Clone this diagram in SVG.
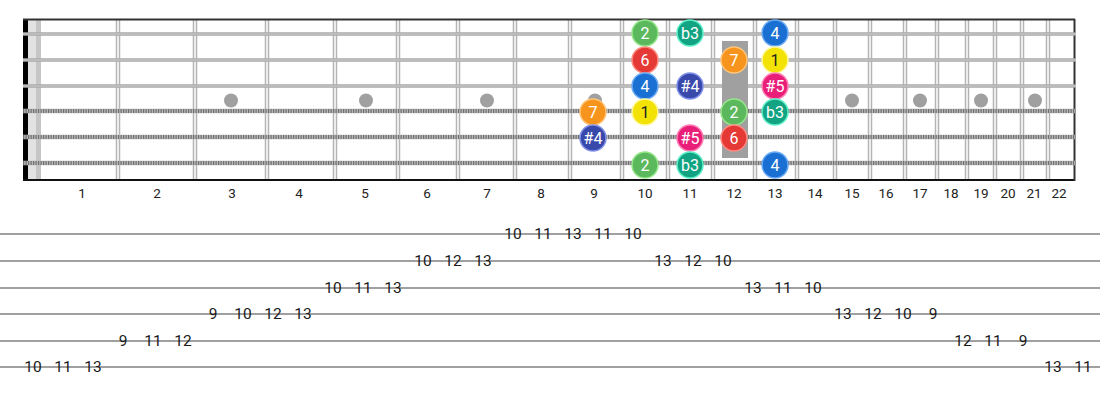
<svg xmlns="http://www.w3.org/2000/svg" width="1100" height="400" viewBox="0 0 1100 400">
<defs>
<style>
.fret{stroke:#b4b4b4;stroke-width:1.5;fill:none}
.plain{stroke:#a8a8a8;stroke-width:3.5}
.plainc{stroke:#d0d0d0;stroke-width:1}
.wound{stroke:#b8b8b8;stroke-width:4.5}
.woundt{stroke:#707070;stroke-width:4;stroke-dasharray:1.2 1.3}
.inlay{fill:#a0a0a0}
.fnum{font-family:Roboto,"Liberation Sans",sans-serif;font-size:13.5px;fill:#222;text-anchor:middle}
.tabline{stroke:#a0a0a0;stroke-width:2}
.tab{font-family:Roboto,"Liberation Sans",sans-serif;font-size:15.5px;fill:#1a1a1a;text-anchor:middle;dominant-baseline:central}
.nt{font-family:Roboto,"Liberation Sans",sans-serif;font-size:16px;fill:#fff;text-anchor:middle;dominant-baseline:central}
.dk{fill:#222}
.c2{fill:#5cb85c;stroke:#95e68a;stroke-width:1.5}
.cb3{fill:#12a383;stroke:#5ef0c8;stroke-width:1.5}
.c4{fill:#1a6fd2;stroke:#6aaaf5;stroke-width:1.5}
.c6{fill:#e53935;stroke:#ff8a80;stroke-width:1.5}
.c7{fill:#f7941d;stroke:#ffc57a;stroke-width:1.5}
.c1{fill:#f2e205;stroke:#fff8a0;stroke-width:1.5}
.cs4{fill:#3949ab;stroke:#8190e8;stroke-width:1.5}
.cs5{fill:#e91e79;stroke:#ff80b5;stroke-width:1.5}
</style>
</defs>
<rect x="0" y="0" width="1100" height="400" fill="#fff"/>
<g id="fretboard">
<rect x="28" y="19" width="8" height="161" fill="#e2e2e2"/>
<rect x="36" y="19" width="5" height="161" fill="#c6c6c6"/>
<rect x="23" y="19" width="5" height="162" fill="#000"/>
<g id="frets">
<path class="fret" d="M116.5 19V180M119.5 19V180M193.5 19V180M196.5 19V180M265.5 19V180M268.5 19V180M333.5 19V180M336.5 19V180M396.5 19V180M399.5 19V180M456.5 19V180M459.5 19V180M513.5 19V180M516.5 19V180M568.5 19V180M571.5 19V180M620.5 19V180M623.5 19V180M666.5 19V180M669.5 19V180M711.5 19V180M714.5 19V180M753.5 19V180M756.5 19V180M795.5 19V180M798.5 19V180M833.5 19V180M836.5 19V180M868.5 19V180M871.5 19V180M903.5 19V180M906.5 19V180M935.5 19V180M938.5 19V180M965.5 19V180M968.5 19V180M993.5 19V180M996.5 19V180M1020.5 19V180M1023.5 19V180M1046.5 19V180M1049.5 19V180"/>
</g>
<line x1="23" y1="19.5" x2="1075" y2="19.5" stroke="#333" stroke-width="2"/>
<line x1="23" y1="180" x2="1075" y2="180" stroke="#111" stroke-width="2"/>
<line x1="1074.5" y1="19" x2="1074.5" y2="181" stroke="#333" stroke-width="2"/>
<g id="inlays">
<circle class="inlay" cx="231" cy="100.5" r="7"/>
<circle class="inlay" cx="366" cy="100.5" r="7"/>
<circle class="inlay" cx="487" cy="100.5" r="7"/>
<circle class="inlay" cx="595" cy="100.5" r="7"/>
<circle class="inlay" cx="852" cy="100.5" r="7"/>
<circle class="inlay" cx="920" cy="100.5" r="7"/>
<circle class="inlay" cx="981" cy="100.5" r="7"/>
<circle class="inlay" cx="1035" cy="100.5" r="7"/>
</g>
<g id="strings">
<line class="plain" x1="23" y1="34" x2="1076" y2="34"/>
<line class="plainc" x1="23" y1="34" x2="1076" y2="34"/>
<line class="plain" x1="23" y1="60" x2="1076" y2="60"/>
<line class="plainc" x1="23" y1="60" x2="1076" y2="60"/>
<line class="plain" x1="23" y1="86" x2="1076" y2="86"/>
<line class="plainc" x1="23" y1="86" x2="1076" y2="86"/>
<line class="wound" x1="23" y1="111" x2="1076" y2="111"/>
<line class="woundt" x1="23" y1="111" x2="1076" y2="111"/>
<line class="wound" x1="23" y1="137" x2="1076" y2="137"/>
<line class="woundt" x1="23" y1="137" x2="1076" y2="137"/>
<line class="wound" x1="23" y1="163" x2="1076" y2="163"/>
<line class="woundt" x1="23" y1="163" x2="1076" y2="163"/>
</g>
<rect x="722" y="41" width="26" height="117" fill="#a0a0a0"/>
</g>
<g id="fret-numbers">
<text class="fnum" x="82" y="198">1</text>
<text class="fnum" x="157" y="198">2</text>
<text class="fnum" x="232" y="198">3</text>
<text class="fnum" x="299" y="198">4</text>
<text class="fnum" x="365" y="198">5</text>
<text class="fnum" x="427" y="198">6</text>
<text class="fnum" x="487" y="198">7</text>
<text class="fnum" x="541" y="198">8</text>
<text class="fnum" x="594" y="198">9</text>
<text class="fnum" x="645" y="198">10</text>
<text class="fnum" x="690" y="198">11</text>
<text class="fnum" x="734" y="198">12</text>
<text class="fnum" x="775" y="198">13</text>
<text class="fnum" x="815" y="198">14</text>
<text class="fnum" x="852" y="198">15</text>
<text class="fnum" x="886" y="198">16</text>
<text class="fnum" x="920" y="198">17</text>
<text class="fnum" x="951" y="198">18</text>
<text class="fnum" x="981" y="198">19</text>
<text class="fnum" x="1008" y="198">20</text>
<text class="fnum" x="1034" y="198">21</text>
<text class="fnum" x="1059" y="198">22</text>
</g>
<g id="notes">
<g id="n-s1-f10"><circle class="c2" cx="645" cy="33" r="13"/><text class="nt" x="645" y="33">2</text></g>
<g id="n-s1-f11"><circle class="cb3" cx="690" cy="33" r="13"/><text class="nt" x="690" y="33">b3</text></g>
<g id="n-s1-f13"><circle class="c4" cx="775" cy="33" r="13"/><text class="nt" x="775" y="33">4</text></g>
<g id="n-s2-f10"><circle class="c6" cx="645" cy="60" r="13"/><text class="nt" x="645" y="60">6</text></g>
<g id="n-s2-f12"><circle class="c7" cx="734" cy="60" r="13"/><text class="nt" x="734" y="60">7</text></g>
<g id="n-s2-f13"><circle class="c1" cx="775" cy="60" r="13"/><text class="nt dk" x="775" y="60">1</text></g>
<g id="n-s3-f10"><circle class="c4" cx="645" cy="86" r="13"/><text class="nt" x="645" y="86">4</text></g>
<g id="n-s3-f11"><circle class="cs4" cx="690" cy="86" r="13"/><text class="nt" x="690" y="86">#4</text></g>
<g id="n-s3-f13"><circle class="cs5" cx="775" cy="86" r="13"/><text class="nt" x="775" y="86">#5</text></g>
<g id="n-s4-f9"><circle class="c7" cx="593" cy="112" r="13"/><text class="nt" x="593" y="112">7</text></g>
<g id="n-s4-f10"><circle class="c1" cx="645" cy="112" r="13"/><text class="nt dk" x="645" y="112">1</text></g>
<g id="n-s4-f12"><circle class="c2" cx="734" cy="112" r="13"/><text class="nt" x="734" y="112">2</text></g>
<g id="n-s4-f13"><circle class="cb3" cx="775" cy="112" r="13"/><text class="nt" x="775" y="112">b3</text></g>
<g id="n-s5-f9"><circle class="cs4" cx="593" cy="138" r="13"/><text class="nt" x="593" y="138">#4</text></g>
<g id="n-s5-f11"><circle class="cs5" cx="690" cy="138" r="13"/><text class="nt" x="690" y="138">#5</text></g>
<g id="n-s5-f12"><circle class="c6" cx="734" cy="138" r="13"/><text class="nt" x="734" y="138">6</text></g>
<g id="n-s6-f10"><circle class="c2" cx="645" cy="165" r="13"/><text class="nt" x="645" y="165">2</text></g>
<g id="n-s6-f11"><circle class="cb3" cx="690" cy="165" r="13"/><text class="nt" x="690" y="165">b3</text></g>
<g id="n-s6-f13"><circle class="c4" cx="775" cy="165" r="13"/><text class="nt" x="775" y="165">4</text></g>
</g>
<g id="tab">
<g id="tab-lines">
<line class="tabline" x1="0" y1="234" x2="1100" y2="234"/>
<line class="tabline" x1="0" y1="261" x2="1100" y2="261"/>
<line class="tabline" x1="0" y1="288" x2="1100" y2="288"/>
<line class="tabline" x1="0" y1="314" x2="1100" y2="314"/>
<line class="tabline" x1="0" y1="341" x2="1100" y2="341"/>
<line class="tabline" x1="0" y1="367" x2="1100" y2="367"/>
</g>
<g id="tab-numbers">
<text class="tab" x="33" y="367">10</text>
<text class="tab" x="63" y="367">11</text>
<text class="tab" x="93" y="367">13</text>
<text class="tab" x="123" y="341">9</text>
<text class="tab" x="153" y="341">11</text>
<text class="tab" x="183" y="341">12</text>
<text class="tab" x="213" y="314">9</text>
<text class="tab" x="243" y="314">10</text>
<text class="tab" x="273" y="314">12</text>
<text class="tab" x="303" y="314">13</text>
<text class="tab" x="333" y="288">10</text>
<text class="tab" x="363" y="288">11</text>
<text class="tab" x="393" y="288">13</text>
<text class="tab" x="423" y="261">10</text>
<text class="tab" x="453" y="261">12</text>
<text class="tab" x="483" y="261">13</text>
<text class="tab" x="513" y="234">10</text>
<text class="tab" x="543" y="234">11</text>
<text class="tab" x="573" y="234">13</text>
<text class="tab" x="603" y="234">11</text>
<text class="tab" x="633" y="234">10</text>
<text class="tab" x="663" y="261">13</text>
<text class="tab" x="693" y="261">12</text>
<text class="tab" x="723" y="261">10</text>
<text class="tab" x="753" y="288">13</text>
<text class="tab" x="783" y="288">11</text>
<text class="tab" x="813" y="288">10</text>
<text class="tab" x="843" y="314">13</text>
<text class="tab" x="873" y="314">12</text>
<text class="tab" x="903" y="314">10</text>
<text class="tab" x="933" y="314">9</text>
<text class="tab" x="963" y="341">12</text>
<text class="tab" x="993" y="341">11</text>
<text class="tab" x="1023" y="341">9</text>
<text class="tab" x="1053" y="367">13</text>
<text class="tab" x="1083" y="367">11</text>
</g>
</g>
</svg>
